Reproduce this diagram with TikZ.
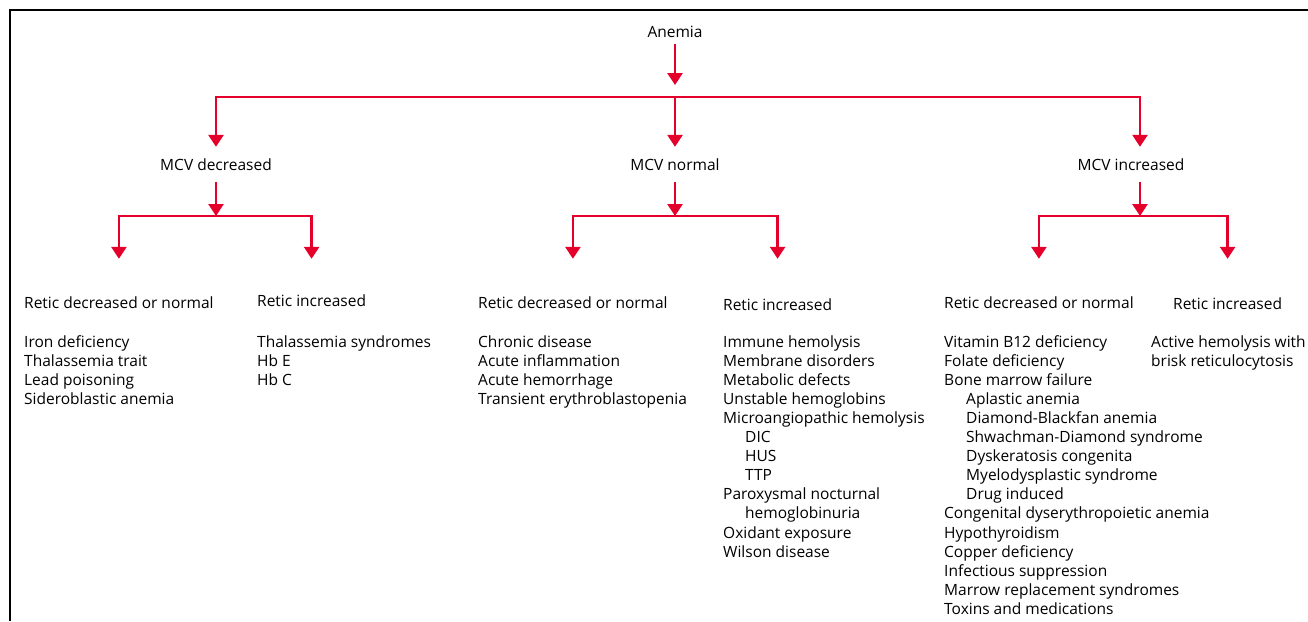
\documentclass[tikz,border=0pt]{standalone}
\usepackage{fontspec}
\setmainfont{Open Sans}
\usetikzlibrary{arrows.meta}
\definecolor{arrred}{RGB}{228,0,43}
\newcommand{\fsz}{\fontsize{15.5}{19.1}\selectfont}
\begin{document}
\begin{tikzpicture}[x=1pt,y=-1pt,
  txt/.style={inner sep=0pt, text height=10pt, text depth=3pt, font=\fsz},
  lst/.style={inner sep=0pt, anchor=north west, align=left, font=\fsz},
  conn/.style={draw=arrred, line width=2.7pt},
  arr/.style={conn, -{Triangle[length=12pt,width=15pt]}},
  frame/.style={draw=black, line width=2pt}]
\useasboundingbox (0,0) rectangle (1308,621);
\draw[frame] (10,621) -- (10,10) -- (1308,10);

% top level
\node[txt, anchor=base] (anemia) at (675,37) {Anemia};
\node[txt, anchor=base] (mcvd) at (216,170.5) {MCV decreased};
\node[txt, anchor=base] (mcvn) at (675,170.5) {MCV normal};
\node[txt, anchor=base] (mcvi) at (1131,170.5) {MCV increased};
\coordinate (j0) at (675,97);
\coordinate (jd) at (216,216);
\coordinate (jn) at (675,216);
\coordinate (ji) at (1140,216);

\draw[arr, shorten <=4pt, shorten >=12pt] (anemia.south) -- (j0);
\draw[arr, shorten >=13.5pt] (j0) -| (mcvd.north);
\draw[arr, shorten >=13.5pt] (j0) -- (mcvn.north);
\draw[arr, shorten >=13.5pt] (j0) -| (ji |- mcvi.north);

% headers
\node[txt, anchor=base west] (h1) at (24,308) {Retic decreased or normal};
\node[txt, anchor=base west] (h2) at (257,306) {Retic increased};
\node[txt, anchor=base west] (h3) at (478,308) {Retic decreased or normal};
\node[txt, anchor=base west] (h4) at (723,310) {Retic increased};
\node[txt, anchor=base west] (h5) at (944,308) {Retic decreased or normal};
\node[txt, anchor=base west] (h6) at (1173,309) {Retic increased};

\draw[arr, shorten <=8.5pt] (mcvd.south) -- (jd);
\draw[arr, shorten <=8.5pt] (mcvn.south) -- (jn);
\draw[arr, shorten <=8.5pt] (ji |- mcvi.south) -- (ji);

\draw[arr, shorten >=39pt] (jd) -| (h1.north);
\draw[arr, shorten >=37pt] (jd) -| (h2.north);
\draw[arr, shorten >=39pt] (jn) -| (h3.north);
\draw[arr, shorten >=41pt] (jn) -| (h4.north);
\draw[arr, shorten >=39pt] (ji) -| (h5.north);
\draw[arr, shorten >=40pt] (ji) -| (h6.north);

% lists (strut fixes first baseline 13.37pt below the top)
\node[lst] (l1) at (24,333.5) {\strut Iron deficiency\\Thalassemia trait\\Lead poisoning\\Sideroblastic anemia};
\node[lst] (l2) at (257,333.5) {\strut Thalassemia syndromes\\Hb E\\Hb C};
\node[lst] (l3) at (478,333.5) {\strut Chronic disease\\Acute inflammation\\Acute hemorrhage\\Transient erythroblastopenia};
\node[lst] (l4) at (723,333.5) {\strut Immune hemolysis\\Membrane disorders\\Metabolic defects\\Unstable hemoglobins\\Microangiopathic hemolysis\\\hspace*{22pt}DIC\\\hspace*{22pt}HUS\\\hspace*{22pt}TTP\\Paroxysmal nocturnal\\\hspace*{22pt}hemoglobinuria\\Oxidant exposure\\Wilson disease};
\node[lst] (l5) at (944,333.5) {\strut Vitamin B12 deficiency\\Folate deficiency\\Bone marrow failure\\\hspace*{22pt}Aplastic anemia\\\hspace*{22pt}Diamond-Blackfan anemia\\\hspace*{22pt}Shwachman-Diamond syndrome\\\hspace*{22pt}Dyskeratosis congenita\\\hspace*{22pt}Myelodysplastic syndrome\\\hspace*{22pt}Drug induced\\Congenital dyserythropoietic anemia\\Hypothyroidism\\Copper deficiency\\Infectious suppression\\Marrow replacement syndromes\\Toxins and medications};
\node[lst] (l6) at (1151,333.5) {\strut Active hemolysis with\\brisk reticulocytosis};
\end{tikzpicture}
\end{document}
